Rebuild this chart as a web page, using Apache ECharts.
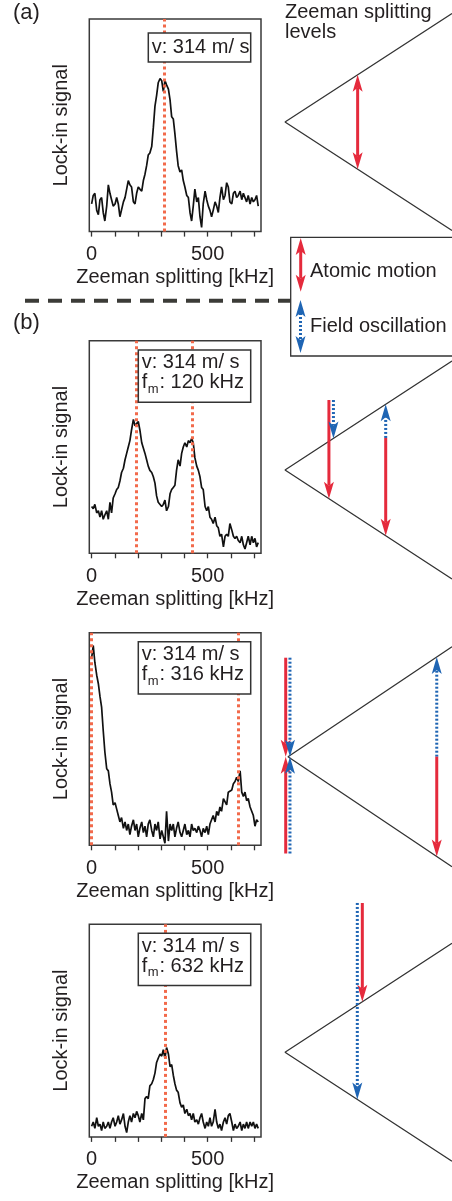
<!DOCTYPE html>
<html>
<head>
<meta charset="utf-8">
<script src="https://cdn.jsdelivr.net/npm/echarts@6.0.0/dist/echarts.min.js"></script>
<style>
  html, body { margin: 0; padding: 0; background: #fff; }
  #chart { width: 452px; height: 1201px; }
</style>
</head>
<body>
<div id="chart"></div>
<script>
// Zeeman splitting axis (kHz), shared by all four spectra
const freqKHz = [
  0, 7, 14, 22, 29, 36, 43, 50, 57, 65,
  72, 79, 86, 93, 101, 108, 115, 122, 129, 137,
  144, 151, 158, 165, 172, 180, 187, 194, 201, 208,
  216, 223, 230, 237, 244, 251, 259, 266, 273, 280,
  287, 295, 302, 309, 316, 323, 331, 338, 345, 352,
  359, 366, 373, 381, 388, 395, 402, 410, 417, 424,
  431, 438, 445, 453, 460, 467, 474, 481, 489, 496,
  503, 510, 517, 524, 532, 539, 546, 553, 560, 568,
  575, 582, 589, 596, 604, 611, 618, 625, 632, 640,
  647, 654, 661, 668, 675, 683, 690, 697, 704, 711,
  718
];

// lock-in signal (arb. units, 0-100 = frame height)
const signalA = [
  13, 17, 18, 10, 8, 15, 16, 9, 5, 12,
  22, 18, 15, 12, 13, 16, 13, 7, 7, 14,
  16, 20, 24, 22, 21, 14, 13, 18, 21, 20,
  19, 24, 27, 31, 36, 37, 40, 49, 59, 64,
  70, 72, 71, 66, 71, 69, 67, 62, 54, 53,
  46, 38, 31, 28, 29, 24, 21, 17, 16, 9,
  5, 12, 20, 14, 16, 7, 2, 13, 19, 15,
  12, 10, 7, 10, 14, 12, 9, 16, 21, 15,
  17, 23, 21, 14, 13, 18, 19, 16, 17, 19,
  15, 18, 16, 14, 17, 13, 16, 14, 15, 17,
  12
];
const signalB120 = [
  22, 21, 23, 19, 20, 17, 20, 16, 18, 20,
  16, 24, 19, 26, 28, 30, 31, 34, 38, 40,
  44, 47, 50, 53, 58, 63, 60, 61, 62, 58,
  52, 52, 47, 44, 41, 39, 38, 36, 33, 27,
  24, 24, 22, 23, 25, 20, 22, 28, 30, 31,
  32, 39, 44, 41, 47, 50, 52, 50, 53, 52,
  54, 52, 45, 41, 39, 36, 31, 30, 22, 20,
  22, 17, 16, 14, 17, 13, 12, 8, 9, 3,
  8, 9, 8, 14, 11, 8, 7, 8, 6, 5,
  8, 4, 2, 5, 8, 4, 8, 5, 7, 3,
  5
];
const signalB316 = [
  88, 94, 86, 80, 76, 70, 65, 54, 44, 36,
  35, 29, 25, 19, 20, 17, 14, 11, 13, 8,
  11, 7, 10, 5, 9, 12, 7, 10, 4, 8,
  11, 6, 9, 4, 10, 12, 7, 4, 10, 7,
  11, 3, 7, 4, 1, 16, 2, 10, 7, 10,
  4, 8, 11, 6, 4, 7, 10, 5, 7, 4,
  10, 7, 8, 6, 9, 7, 4, 8, 6, 9,
  5, 10, 12, 14, 11, 16, 14, 18, 16, 22,
  22, 19, 25, 25, 26, 29, 30, 32, 30, 35,
  25, 23, 25, 21, 22, 18, 16, 14, 9, 12,
  11
];
const signalB632 = [
  5, 7, 4, 9, 5, 6, 3, 7, 4, 5,
  7, 4, 7, 9, 5, 7, 10, 6, 8, 11,
  5, 2, 7, 10, 7, 11, 9, 12, 10, 7,
  11, 8, 18, 19, 18, 24, 25, 27, 30, 35,
  37, 39, 38, 41, 37, 42, 39, 33, 34, 29,
  25, 22, 21, 16, 14, 15, 11, 13, 10, 11,
  8, 11, 7, 8, 6, 9, 11, 7, 4, 7,
  5, 9, 5, 7, 13, 7, 4, 6, 3, 7,
  9, 6, 10, 11, 7, 3, 6, 4, 5, 7,
  3, 6, 4, 7, 4, 7, 5, 7, 4, 6,
  4
];

// expected resonance positions (kHz), red dotted lines
const markerA = [314];
const markerB120 = [194, 434];
const markerB316 = [-2, 630];
const markerB632 = [318];

const tickValues = [0, 100, 200, 300, 400, 500, 600, 700];
const labelValues = [0, 500];

// level diagram: cone through the vertex, in (field, energy) units
const coneLine = [[1, 1], [0, 0], [1, -1]];
// arrows: [field, energyFrom, energyTo, kind (0 atomic motion, 1 field oscillation), heads (1 end, 2 both)]
const arrowsA = [[0.435, 0.435, -0.435, 0, 2]];
const arrowsB120 = [
  [0.263, 0.642, -0.263, 0, 1], [0.29, 0.642, 0.29, 1, 1],
  [0.603, 0.294, 0.603, 1, 1], [0.603, 0.294, -0.603, 0, 1]
];
const arrowsB316 = [
  [-0.014, 0.9, 0, 0, 1], [-0.014, -0.88, 0, 0, 1],
  [0.012, 0.9, 0, 1, 1], [0.012, -0.88, 0, 1, 1],
  [0.907, 0, 0.907, 1, 1], [0.907, 0, -0.907, 0, 1]
];
const arrowsB632 = [[0.463, 1.37, 0.463, 0, 1], [0.433, 1.37, -0.433, 1, 1]];

const FONT = 'Liberation Sans';
const INK = '#231f20';
const RED = '#e52a3c';
const BLUE = '#1f65b4';
const MARK = '#f26a4b';

const chart = echarts.init(document.getElementById('chart'), null, {renderer: 'canvas'});

function arrowParts(p0, p1, kind, heads, z) {
  const color = kind === 1 ? BLUE : RED;
  const dx = p1[0] - p0[0], dy = p1[1] - p0[1];
  const len = Math.hypot(dx, dy) || 1;
  const ux = dx / len, uy = dy / len;
  const HL = 17, HW = 5, NOTCH = 4;
  const inset = HL - NOTCH;
  const s = heads === 2 ? [p0[0] + ux * inset, p0[1] + uy * inset] : p0;
  const e = [p1[0] - ux * inset, p1[1] - uy * inset];
  const lineStyle = {stroke: color, lineWidth: 3};
  if (kind === 1) lineStyle.lineDash = [2, 2];
  const parts = [{type: 'line', shape: {x1: s[0], y1: s[1], x2: e[0], y2: e[1]}, style: lineStyle}];
  const head = (tip, vx, vy) => {
    const bx = tip[0] - vx * HL, by = tip[1] - vy * HL;
    const px = -vy, py = vx;
    return {
      type: 'polygon',
      shape: {points: [tip, [bx + px * HW, by + py * HW], [tip[0] - vx * inset, tip[1] - vy * inset], [bx - px * HW, by - py * HW]]},
      style: {fill: color}
    };
  };
  parts.push(head(p1, ux, uy));
  if (heads === 2) parts.push(head(p0, -ux, -uy));
  if (z != null) parts.forEach(p => { p.z = z; });
  return parts;
}

// spectrum frames
const panelTops = [19, 340.7, 632.7, 924.3];
const signals = [signalA, signalB120, signalB316, signalB632];
const markers = [markerA, markerB120, markerB316, markerB632];

// level diagrams (vertex position, px per unit)
const diagrams = [
  {vx: 285, vy: 122, sx: 167, sy: 108.5, ymin: -1.1, ymax: 1.1, arrows: arrowsA},
  {vx: 285, vy: 470, sx: 167, sy: 109, ymin: -1.1, ymax: 1.1, arrows: arrowsB120},
  {vx: 288, vy: 756.7, sx: 164, sy: 110, ymin: -1.1, ymax: 1.1, arrows: arrowsB316},
  {vx: 285, vy: 1052.3, sx: 167, sy: 109, ymin: -1.1, ymax: 1.45, arrows: arrowsB632}
];

const grid = [], xAxis = [], yAxis = [], series = [];

panelTops.forEach((top, i) => {
  grid.push({left: 89.3, top: top, width: 171.7, height: 212.6, show: true, borderColor: '#3a3a3a', borderWidth: 1.5, backgroundColor: 'transparent'});
  xAxis.push({
    type: 'value', gridIndex: i, min: -10, max: 730,
    axisLine: {show: false},
    axisTick: {show: true, inside: false, length: 5, customValues: tickValues, lineStyle: {color: '#333', width: 1.3}},
    axisLabel: {customValues: labelValues, color: INK, fontFamily: FONT, fontSize: 20, margin: 13},
    splitLine: {show: false},
    name: 'Zeeman splitting [kHz]', nameLocation: 'middle', nameGap: 36,
    nameTextStyle: {color: INK, fontFamily: FONT, fontSize: 20}
  });
  yAxis.push({
    type: 'value', gridIndex: i, min: 0, max: 100,
    axisLine: {show: false}, axisTick: {show: false}, axisLabel: {show: false}, splitLine: {show: false},
    name: 'Lock-in signal', nameLocation: 'middle', nameGap: 18,
    nameTextStyle: {color: INK, fontFamily: FONT, fontSize: 20}
  });
  series.push({
    type: 'line', xAxisIndex: i, yAxisIndex: i,
    data: freqKHz.map((f, k) => [f, signals[i][k]]),
    showSymbol: false, silent: true,
    lineStyle: {color: '#111', width: 1.7},
    markLine: {
      silent: true, symbol: ['none', 'none'], label: {show: false},
      lineStyle: {color: MARK, width: 3, type: [3, 3]},
      data: markers[i].map(v => ({xAxis: v}))
    }
  });
});

diagrams.forEach((d, j) => {
  const gi = 4 + j;
  grid.push({left: d.vx - 0.1 * d.sx, top: d.vy - d.ymax * d.sy, width: 1.1 * d.sx, height: (d.ymax - d.ymin) * d.sy, show: false});
  xAxis.push({type: 'value', gridIndex: gi, min: -0.1, max: 1, show: false});
  yAxis.push({type: 'value', gridIndex: gi, min: d.ymin, max: d.ymax, show: false});
  series.push({
    type: 'line', xAxisIndex: gi, yAxisIndex: gi, data: coneLine,
    showSymbol: false, silent: true, lineStyle: {color: '#333', width: 1.3}
  });
  series.push({
    type: 'custom', xAxisIndex: gi, yAxisIndex: gi, data: d.arrows, silent: true, z: 5,
    encode: {x: 0, y: [1, 2]},
    renderItem: (params, api) => {
      const x = api.value(0);
      const p0 = api.coord([x, api.value(1)]);
      const p1 = api.coord([x, api.value(2)]);
      return {type: 'group', children: arrowParts(p0, p1, api.value(3), api.value(4))};
    }
  });
});

const txt = (text, x, y, size) => ({
  type: 'text', x: x, y: y, z: 101,
  style: {text: text, fontFamily: FONT, fontSize: size, fill: INK, verticalAlign: 'middle'}
});

const graphic = [
  txt('(a)', 13, 13, 22),
  txt('(b)', 13, 323, 22),
  txt('Zeeman splitting', 285, 12, 20),
  txt('levels', 285, 32, 20),
  // separator
  {type: 'line', z: 50, shape: {x1: 25, y1: 300.7, x2: 290.7, y2: 300.7},
   style: {stroke: '#3b3b37', lineWidth: 4, lineDash: [14, 9]}},
  // legend box
  {type: 'rect', z: 90, shape: {x: 290.7, y: 237.3, width: 200, height: 118.7},
   style: {fill: '#fff', stroke: '#333', lineWidth: 1.3}}
].concat(
  arrowParts([300.7, 238], [300.7, 291.7], 0, 2, 95),
  arrowParts([300.5, 300], [300.5, 353], 1, 2, 95),
  [
    txt('Atomic motion', 310, 271.7, 20),
    txt('Field oscillation', 310, 326.7, 20),
    // parameter box (a)
    {type: 'rect', z: 100, shape: {x: 148.3, y: 33, width: 102.4, height: 29},
     style: {fill: '#fff', stroke: '#333', lineWidth: 1.5}},
    txt('v: 314 m/ s', 151.7, 47.5, 20)
  ]
);

[[350, '120'], [641.7, '316'], [933.3, '632']].forEach(([top, fm]) => {
  graphic.push({type: 'rect', z: 100, shape: {x: 138.3, y: top, width: 112.4, height: 52.3},
    style: {fill: '#fff', stroke: '#333', lineWidth: 1.5}});
  graphic.push(txt('v: 314 m/ s', 141.7, top + 12.7, 20));
  graphic.push(txt('f', 141.7, top + 32.7, 20));
  graphic.push(txt('m', 147.8, top + 39.5, 13));
  graphic.push(txt(': ' + fm + ' kHz', 159.5, top + 32.7, 20));
});

chart.setOption({
  animation: false,
  backgroundColor: '#fff',
  grid: grid,
  xAxis: xAxis,
  yAxis: yAxis,
  series: series,
  graphic: graphic
});
</script>
</body>
</html>
